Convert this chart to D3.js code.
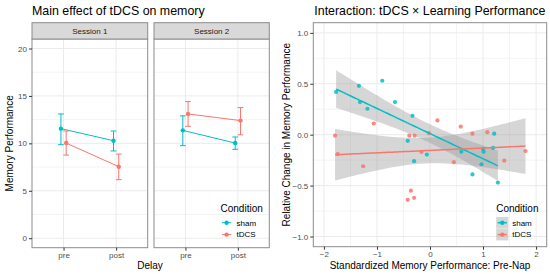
<!DOCTYPE html>
<html>
<head>
<meta charset="utf-8">
<script src="https://cdn.jsdelivr.net/npm/d3@7"></script>
<style>
  body { margin: 0; background: #fff; }
  svg { display: block; font-family: "Liberation Sans", Arial, sans-serif; }
</style>
</head>
<body>
<div id="chart"></div>
<script>
// ---- data ----
var sessions = ['Session 1', 'Session 2'];
var delays = ['pre', 'post'];
var conditions = ['sham', 'tDCS'];
var colors = ['#00BFC4', '#F8766D'];

// order: S1 pre, S1 post, S2 pre, S2 post
var shamMean = [11.55, 10.28, 11.37, 10.03];
var shamLow  = [9.86, 9.2, 9.76, 9.37];
var shamHigh = [13.1, 11.3, 12.9, 10.67];
var tdcsMean = [10.03, 7.54, 13.1, 12.4];
var tdcsLow  = [8.76, 6.17, 11.8, 10.9];
var tdcsHigh = [11.3, 8.87, 14.4, 13.77];

var leftYTicks = [0, 5, 10, 15, 20];
var leftYMinor = [2.5, 7.5, 12.5, 17.5];

var shamX = [-1.77, -1.34, -0.90, -1.32, -1.18, -0.66, -0.33, -0.42, -0.06, -0.30, 0.59, 1.00, 1.01, 1.19, 1.21, 0.97, 0.80, 1.28];
var shamY = [0.42, 0.48, 0.53, 0.32, 0.255, 0.32, 0.185, -0.06, -0.195, -0.26, -0.167, -0.14, -0.167, -0.13, 0.01, -0.29, -0.39, -0.47];
var tdcsX = [-1.06, -1.79, -0.39, -0.29, -0.02, 0.14, 0.58, 0.80, 1.08, -1.74, -1.26, -0.16, -0.36, -0.42, -0.30, 0.45, 1.40, 1.80];
var tdcsY = [0.11, -0.01, -0.01, -0.01, 0.015, 0.14, 0.08, 0.01, 0.025, -0.19, -0.31, -0.17, -0.55, -0.64, -0.62, -0.27, -0.255, -0.16];

var rightXTicks = [-2, -1, 0, 1, 2];
var rightXMinor = [-1.5, -0.5, 0.5, 1.5];
var rightYTicks = [-1, -0.5, 0, 0.5, 1];
var rightYMinor = [-0.75, -0.25, 0.25, 0.75];

// ---- setup ----
var width = 550, height = 274;
var svg = d3.select('#chart').append('svg').attr('width', width).attr('height', height);

var gridMajor = '#EBEBEB', gridMinor = '#F4F4F4', border = '#8C8C8C';
var tickText = '#4D4D4D';

var styleAxis = function (g) {
  g.select('.domain').remove();
  g.selectAll('.tick line').attr('stroke', '#333');
  g.selectAll('.tick text').attr('fill', tickText).style('font-size', '8px');
};

// ---------- left chart ----------
var leftPanels = [{x0: 32, x1: 147.7}, {x0: 154, x1: 269.3}];
var stripTop = 22.7, panelTop = 39, panelBottom = 247.7;
var yLeft = d3.scaleLinear().domain([-1, 21]).range([panelBottom, panelTop]);

svg.append('text').attr('x', 32).attr('y', 15.3)
  .style('font-size', '12.4px').attr('fill', '#000')
  .text('Main effect of tDCS on memory');

var series = [
  {mean: shamMean, lo: shamLow, hi: shamHigh},
  {mean: tdcsMean, lo: tdcsLow, hi: tdcsHigh}
];

leftPanels.forEach(function (p, si) {
  var x = d3.scalePoint().domain(delays).range([p.x0, p.x1]).padding(0.6);
  var step = x.step();
  var g = svg.append('g');

  // grid
  g.selectAll('.ymin').data(leftYMinor).enter().append('line')
    .attr('x1', p.x0).attr('x2', p.x1)
    .attr('y1', function (d) { return yLeft(d); }).attr('y2', function (d) { return yLeft(d); })
    .attr('stroke', gridMinor);
  g.selectAll('.ymaj').data(leftYTicks).enter().append('line')
    .attr('x1', p.x0).attr('x2', p.x1)
    .attr('y1', function (d) { return yLeft(d); }).attr('y2', function (d) { return yLeft(d); })
    .attr('stroke', gridMajor);
  g.selectAll('.xmaj').data(delays).enter().append('line')
    .attr('x1', function (d) { return x(d); }).attr('x2', function (d) { return x(d); })
    .attr('y1', panelTop).attr('y2', panelBottom)
    .attr('stroke', gridMajor);

  // series
  series.forEach(function (s, ci) {
    var off = (ci === 0 ? -1 : 1) * step * 0.05;
    var pts = delays.map(function (d, di) {
      var k = si * 2 + di;
      return {x: x(d) + off, m: s.mean[k], lo: s.lo[k], hi: s.hi[k]};
    });
    var col = colors[ci];
    g.append('path')
      .attr('d', d3.line().x(function (d) { return d.x; }).y(function (d) { return yLeft(d.m); })(pts))
      .attr('stroke', col).attr('stroke-width', 1).attr('fill', 'none');
    pts.forEach(function (d) {
      var cw = step * 0.055;
      g.append('path')
        .attr('d', 'M' + (d.x - cw) + ',' + yLeft(d.hi) + 'H' + (d.x + cw) +
          'M' + d.x + ',' + yLeft(d.hi) + 'V' + yLeft(d.lo) +
          'M' + (d.x - cw) + ',' + yLeft(d.lo) + 'H' + (d.x + cw))
        .attr('stroke', col).attr('stroke-width', 1).attr('fill', 'none');
      g.append('circle').attr('cx', d.x).attr('cy', yLeft(d.m)).attr('r', 2.2).attr('fill', col);
    });
  });

  // border
  g.append('rect').attr('x', p.x0).attr('y', panelTop)
    .attr('width', p.x1 - p.x0).attr('height', panelBottom - panelTop)
    .attr('fill', 'none').attr('stroke', border);
  // strip
  g.append('rect').attr('x', p.x0).attr('y', stripTop)
    .attr('width', p.x1 - p.x0).attr('height', panelTop - stripTop)
    .attr('fill', '#D9D9D9').attr('stroke', border);
  g.append('text').attr('x', (p.x0 + p.x1) / 2).attr('y', (stripTop + panelTop) / 2)
    .attr('text-anchor', 'middle').attr('dy', '0.35em')
    .style('font-size', '8px').attr('fill', '#1A1A1A')
    .text(sessions[si]);

  // x axis
  g.append('g').attr('transform', 'translate(0,' + panelBottom + ')')
    .call(d3.axisBottom(x).tickSize(3).tickPadding(2))
    .call(styleAxis);

  if (si === 0) {
    g.append('g').attr('transform', 'translate(' + p.x0 + ',0)')
      .call(d3.axisLeft(yLeft).tickValues(leftYTicks).tickSize(3).tickPadding(2))
      .call(styleAxis);
  }
});

svg.append('text').attr('x', 150).attr('y', 269)
  .attr('text-anchor', 'middle').style('font-size', '10px').text('Delay');
svg.append('text')
  .attr('transform', 'translate(13,' + ((panelTop + panelBottom) / 2) + ') rotate(-90)')
  .attr('text-anchor', 'middle').style('font-size', '10px').text('Memory Performance');

// left legend
var drawLegend = function (x0, withFill) {
  var lg = svg.append('g');
  lg.append('text').attr('x', x0).attr('y', 211.5).style('font-size', '10px').text('Condition');
  var rows = [222.7, 234.6];
  conditions.forEach(function (c, i) {
    var cy = rows[i];
    if (withFill) {
      lg.append('rect').attr('x', x0).attr('y', cy - 5.8).attr('width', 12.2).attr('height', 11.6)
        .attr('fill', '#999').attr('fill-opacity', 0.4);
    }
    lg.append('line').attr('x1', x0 + 1.5).attr('x2', x0 + 10.7).attr('y1', cy).attr('y2', cy)
      .attr('stroke', colors[i]).attr('stroke-width', withFill ? 1.5 : 1);
    lg.append('circle').attr('cx', x0 + 6.1).attr('cy', cy).attr('r', 2.2).attr('fill', colors[i]);
    lg.append('text').attr('x', x0 + 16).attr('y', cy).attr('dy', '0.35em')
      .style('font-size', '8px').attr('fill', '#000').text(c);
  });
};
drawLegend(220.5, false);

// ---------- right chart ----------
var rp = {x0: 313.3, x1: 546.7, y0: 22.7, y1: 246.7};
var xR = d3.scaleLinear().domain([-2.2, 2.2]).range([rp.x0, rp.x1]);
var yR = d3.scaleLinear().domain([-1.1, 1.1]).range([rp.y1, rp.y0]);

svg.append('text').attr('x', 314.3).attr('y', 15.3)
  .style('font-size', '12.4px').attr('fill', '#000')
  .text('Interaction: tDCS \u00D7 Learning Performance');

var rg = svg.append('g');
rg.selectAll('.xm').data(rightXMinor).enter().append('line')
  .attr('x1', function (d) { return xR(d); }).attr('x2', function (d) { return xR(d); })
  .attr('y1', rp.y0).attr('y2', rp.y1).attr('stroke', gridMinor);
rg.selectAll('.ym').data(rightYMinor).enter().append('line')
  .attr('y1', function (d) { return yR(d); }).attr('y2', function (d) { return yR(d); })
  .attr('x1', rp.x0).attr('x2', rp.x1).attr('stroke', gridMinor);
rg.selectAll('.xM').data(rightXTicks).enter().append('line')
  .attr('x1', function (d) { return xR(d); }).attr('x2', function (d) { return xR(d); })
  .attr('y1', rp.y0).attr('y2', rp.y1).attr('stroke', gridMajor);
rg.selectAll('.yM').data(rightYTicks).enter().append('line')
  .attr('y1', function (d) { return yR(d); }).attr('y2', function (d) { return yR(d); })
  .attr('x1', rp.x0).attr('x2', rp.x1).attr('stroke', gridMajor);

// linear fit with 95% band
var fit = function (xs, ys) {
  var n = xs.length;
  var xm = d3.mean(xs), ym = d3.mean(ys);
  var sxx = 0, sxy = 0;
  xs.forEach(function (x, i) { sxx += (x - xm) * (x - xm); sxy += (x - xm) * (ys[i] - ym); });
  var b = sxy / sxx, a = ym - b * xm;
  var sse = 0;
  xs.forEach(function (x, i) { var r = ys[i] - (a + b * x); sse += r * r; });
  var s = Math.sqrt(sse / (n - 2));
  var t = 2.12; // t(0.975, df=16)
  var ext = d3.extent(xs);
  return d3.range(0, 81).map(function (k) {
    var x = ext[0] + (ext[1] - ext[0]) * k / 80;
    var yhat = a + b * x;
    var se = s * Math.sqrt(1 / n + (x - xm) * (x - xm) / sxx);
    return {x: x, y: yhat, lo: yhat - t * se, hi: yhat + t * se};
  });
};

var groups = [{xs: shamX, ys: shamY}, {xs: tdcsX, ys: tdcsY}];
var fits = groups.map(function (g) { return fit(g.xs, g.ys); });

fits.forEach(function (f) {
  rg.append('path')
    .attr('d', d3.area().x(function (d) { return xR(d.x); })
      .y0(function (d) { return yR(d.lo); }).y1(function (d) { return yR(d.hi); })(f))
    .attr('fill', '#999').attr('fill-opacity', 0.4);
});
groups.forEach(function (g, gi) {
  rg.selectAll('.pt' + gi).data(g.xs).enter().append('circle')
    .attr('cx', function (d) { return xR(d); })
    .attr('cy', function (d, i) { return yR(g.ys[i]); })
    .attr('r', 2.1).attr('fill', colors[gi]).attr('fill-opacity', 0.85);
});
fits.forEach(function (f, gi) {
  rg.append('path')
    .attr('d', d3.line().x(function (d) { return xR(d.x); }).y(function (d) { return yR(d.y); })(f))
    .attr('stroke', colors[gi]).attr('stroke-width', 1.5).attr('fill', 'none');
});

rg.append('rect').attr('x', rp.x0).attr('y', rp.y0)
  .attr('width', rp.x1 - rp.x0).attr('height', rp.y1 - rp.y0)
  .attr('fill', 'none').attr('stroke', border);

rg.append('g').attr('transform', 'translate(0,' + rp.y1 + ')')
  .call(d3.axisBottom(xR).tickValues(rightXTicks).tickFormat(d3.format('d')).tickSize(3).tickPadding(2))
  .call(styleAxis);
rg.append('g').attr('transform', 'translate(' + rp.x0 + ',0)')
  .call(d3.axisLeft(yR).tickValues(rightYTicks).tickFormat(d3.format('.1f')).tickSize(3).tickPadding(2))
  .call(styleAxis);

svg.append('text').attr('x', (rp.x0 + rp.x1) / 2).attr('y', 269)
  .attr('text-anchor', 'middle').style('font-size', '10px')
  .text('Standardized Memory Performance: Pre-Nap');
svg.append('text')
  .attr('transform', 'translate(289.5,' + ((rp.y0 + rp.y1) / 2) + ') rotate(-90)')
  .attr('text-anchor', 'middle').style('font-size', '10px')
  .text('Relative Change in Memory Performance');

drawLegend(496.2, true);
</script>
</body>
</html>
